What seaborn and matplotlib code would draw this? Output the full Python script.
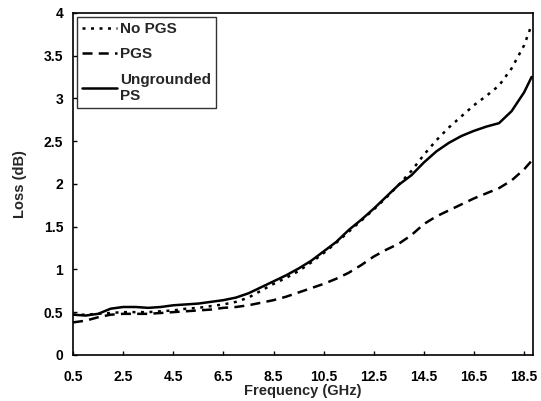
import matplotlib
matplotlib.use("Agg")
import matplotlib.pyplot as plt
import seaborn as sns
import pandas as pd

freq = [0.5, 1.0, 1.5, 2.0, 2.5, 3.0, 3.5, 4.0, 4.5, 5.0, 5.5, 6.0, 6.5, 7.0,
        7.5, 8.0, 8.5, 9.0, 9.5, 10.0, 10.5, 11.0, 11.5, 12.0, 12.5, 13.0,
        13.5, 14.0, 14.5, 15.0, 15.5, 16.0, 16.5, 17.0, 17.5, 18.0, 18.5, 18.8]

no_pgs = [0.47, 0.47, 0.48, 0.49, 0.50, 0.50, 0.50, 0.51, 0.52, 0.54, 0.55,
          0.57, 0.59, 0.62, 0.67, 0.75, 0.83, 0.90, 0.98, 1.08, 1.19, 1.31,
          1.44, 1.57, 1.70, 1.84, 1.99, 2.15, 2.34, 2.51, 2.66, 2.79, 2.92,
          3.03, 3.15, 3.35, 3.62, 3.86]

pgs = [0.38, 0.40, 0.44, 0.47, 0.48, 0.48, 0.48, 0.49, 0.50, 0.51, 0.52,
       0.53, 0.55, 0.56, 0.58, 0.61, 0.64, 0.68, 0.73, 0.78, 0.83, 0.89,
       0.96, 1.05, 1.15, 1.23, 1.30, 1.40, 1.53, 1.62, 1.69, 1.76, 1.83,
       1.89, 1.95, 2.04, 2.17, 2.27]

ungrounded = [0.47, 0.46, 0.48, 0.54, 0.56, 0.56, 0.55, 0.56, 0.58, 0.59, 0.60,
              0.62, 0.64, 0.67, 0.72, 0.79, 0.86, 0.93, 1.01, 1.10, 1.21, 1.32,
              1.46, 1.58, 1.71, 1.85, 1.99, 2.10, 2.25, 2.38, 2.48, 2.56, 2.62,
              2.67, 2.71, 2.85, 3.07, 3.25]

series_names = ["No PGS", "PGS", "Ungrounded\nPS"]
x_ticks = [0.5, 2.5, 4.5, 6.5, 8.5, 10.5, 12.5, 14.5, 16.5, 18.5]
y_ticks = [0, 0.5, 1, 1.5, 2, 2.5, 3, 3.5, 4]
y_tick_labels = ["0", "0.5", "1", "1.5", "2", "2.5", "3", "3.5", "4"]

sns.set_style("ticks")
plt.rcParams['font.family'] = ['Liberation Sans', 'DejaVu Sans']
plt.rcParams['font.weight'] = 'bold'

fig = plt.figure(figsize=(5.41, 4.01), dpi=100)
ax = fig.add_axes([0.135, 0.115, 0.85, 0.853])

styles = [(0, (1.2, 2.2)), (0, (4, 2.5)), '-']
for vals, name, ls in zip([no_pgs, pgs, ungrounded], series_names, styles):
    df = pd.DataFrame({"Frequency": freq, "Loss": vals})
    sns.lineplot(data=df, x="Frequency", y="Loss", ax=ax, color="black",
                 linewidth=1.8, linestyle=ls, label=name)

ax.set_xlim(0.5, 18.85)
ax.set_ylim(0, 4)
ax.set_xticks(x_ticks)
ax.set_xticklabels([str(t) for t in x_ticks])
ax.set_yticks(y_ticks)
ax.set_yticklabels(y_tick_labels)
ax.tick_params(direction='in', length=3, width=1, labelsize=10, colors='black')
ax.tick_params(axis='x', pad=11)
ax.tick_params(axis='y', pad=7)
for lab in ax.get_xticklabels() + ax.get_yticklabels():
    lab.set_fontweight('bold')
for sp in ax.spines.values():
    sp.set_visible(True)
    sp.set_color('black')
    sp.set_linewidth(1.2)

ax.set_xlabel("Frequency (GHz)", fontsize=10.5, fontweight='bold', labelpad=0)
ax.set_ylabel("Loss (dB)", fontsize=10.5, fontweight='bold', labelpad=12)

leg = ax.legend(loc='upper left', frameon=True, fancybox=False, fontsize=11,
                handlelength=2.3, borderaxespad=0.25, labelspacing=0.75,
                handletextpad=0.15, borderpad=0.35)
leg.get_frame().set_edgecolor('black')
leg.get_frame().set_linewidth(1.0)
for t in leg.get_texts():
    t.set_fontweight('bold')

fig.savefig("out.png", dpi=100)
